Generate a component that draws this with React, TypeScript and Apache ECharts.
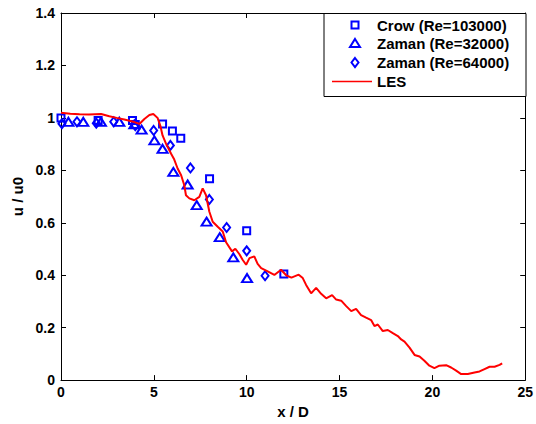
import React, { useEffect, useRef } from "react";
import * as echarts from "echarts";

const crowX = [0, 2.0, 3.85, 4.0, 5.47, 6.0, 6.45, 8.0, 10.0, 12.0];
const crowY = [1.0, 0.99, 0.99, 0.975, 0.977, 0.95, 0.922, 0.768, 0.57, 0.405];

const zaman32X = [0.4, 1.2, 2.15, 3.14, 3.95, 4.34, 5.03, 5.47, 6.05, 6.82, 7.31, 7.84, 8.55, 9.28, 10.02];
const zaman32Y = [0.985, 0.985, 0.985, 0.985, 0.975, 0.955, 0.914, 0.882, 0.794, 0.746, 0.667, 0.604, 0.545, 0.468, 0.389];

const zaman64X = [0.05, 0.86, 1.9, 2.84, 4.0, 4.99, 5.89, 6.97, 7.99, 8.92, 10.0, 10.99];
const zaman64Y = [0.978, 0.985, 0.98, 0.985, 0.97, 0.952, 0.895, 0.809, 0.689, 0.582, 0.493, 0.398];

const lesX = [0, 0.5, 1.0, 1.5, 2.16, 2.6, 3.0, 3.41, 3.95, 4.22, 4.49, 4.76, 4.97, 5.2, 5.35, 5.47, 5.66, 5.93, 6.1, 6.28, 6.47, 6.64, 6.73, 6.91, 7.18, 7.45, 7.63, 7.81, 7.99, 8.17, 8.44, 8.71, 8.89, 9.21, 9.39, 9.61, 9.78, 9.97, 10.15, 10.41, 10.59, 10.78, 11.13, 11.49, 11.85, 12.14, 12.41, 12.8, 13.02, 13.2, 13.47, 13.74, 14.01, 14.28, 14.6, 14.82, 15.09, 15.36, 15.63, 15.89, 16.16, 16.43, 16.7, 16.88, 17.06, 17.33, 17.6, 17.87, 18.14, 18.32, 18.5, 18.77, 19.04, 19.31, 19.57, 19.84, 20.11, 20.38, 20.74, 21.01, 21.28, 21.55, 21.91, 22.27, 22.54, 22.81, 23.08, 23.35, 23.62, 23.76];
const lesY = [1.02, 1.016, 1.014, 1.013, 1.015, 1.006, 1.0, 0.994, 0.984, 0.977, 0.996, 1.011, 1.015, 1.0, 0.97, 0.933, 0.901, 0.863, 0.841, 0.807, 0.781, 0.743, 0.705, 0.693, 0.686, 0.699, 0.731, 0.705, 0.642, 0.604, 0.585, 0.567, 0.526, 0.491, 0.501, 0.48, 0.459, 0.44, 0.465, 0.472, 0.443, 0.427, 0.415, 0.401, 0.421, 0.399, 0.391, 0.402, 0.389, 0.363, 0.331, 0.352, 0.329, 0.312, 0.324, 0.307, 0.303, 0.282, 0.263, 0.272, 0.248, 0.238, 0.229, 0.206, 0.212, 0.187, 0.191, 0.179, 0.168, 0.155, 0.147, 0.124, 0.096, 0.09, 0.074, 0.055, 0.046, 0.055, 0.057, 0.048, 0.036, 0.023, 0.023, 0.029, 0.033, 0.042, 0.051, 0.051, 0.058, 0.064];

const legendLabels = ["Crow (Re=103000)", "Zaman (Re=32000)", "Zaman (Re=64000)", "LES"];

const BLUE = "#0000ff";
const RED = "#ff0000";
const FONT = "Arial, 'Liberation Sans', sans-serif";

const zip = (xs: number[], ys: number[]) => xs.map((x, i) => [x, ys[i]]);

export default function App() {
  const ref = useRef<HTMLDivElement>(null);
  useEffect(() => {
    if (!ref.current) return;
    const chart = echarts.init(ref.current, undefined, { renderer: "svg" });
    const axisCommon = {
      type: "value" as const,
      axisLine: { show: true, onZero: false, lineStyle: { color: "#000", width: 1 } },
      axisTick: { show: true, inside: true, length: 5, lineStyle: { color: "#000" } },
      splitLine: { show: false },
    };
    const labelStyle = { color: "#000", fontWeight: "bold" as const, fontFamily: FONT, fontSize: 14 };
    const markerStyle = { color: "rgba(0,0,0,0)", borderColor: BLUE, borderWidth: 2, opacity: 1 };
    const rows = [25, 43.5, 62.5, 81.5];
    const legendX = 355;
    const graphics: any[] = [
      { type: "rect", z: 100, shape: { x: 324, y: 13.5, width: 202, height: 83 }, style: { fill: "#fff", stroke: "#000", lineWidth: 1 } },
      { type: "rect", z: 101, shape: { x: legendX - 3.5, y: rows[0] - 3.5, width: 7, height: 7 }, style: { fill: "none", stroke: BLUE, lineWidth: 2 } },
      { type: "polygon", z: 101, shape: { points: [[legendX, rows[1] - 4.5], [legendX + 5, rows[1] + 3.5], [legendX - 5, rows[1] + 3.5]] }, style: { fill: "none", stroke: BLUE, lineWidth: 2 } },
      { type: "polygon", z: 101, shape: { points: [[legendX, rows[2] - 4.5], [legendX + 3.5, rows[2]], [legendX, rows[2] + 4.5], [legendX - 3.5, rows[2]]] }, style: { fill: "none", stroke: BLUE, lineWidth: 2 } },
      { type: "line", z: 101, shape: { x1: 332, y1: rows[3], x2: 372, y2: rows[3] }, style: { stroke: RED, lineWidth: 1.5 } },
    ];
    legendLabels.forEach((t, i) => {
      graphics.push({
        type: "text", z: 101, x: 377, y: rows[i],
        style: { text: t, fill: "#000", font: `bold 15px ${FONT}`, verticalAlign: "middle" },
      });
    });
    chart.setOption({
      animation: false,
      backgroundColor: "#fff",
      grid: { left: 61, right: 10, top: 13, bottom: 41, containLabel: false },
      xAxis: [
        {
          ...axisCommon, min: 0, max: 25, interval: 5, position: "bottom",
          name: "x / D", nameLocation: "middle", nameGap: 23,
          nameTextStyle: { ...labelStyle, fontSize: 15 },
          axisLabel: { ...labelStyle, margin: 5 },
        },
        { ...axisCommon, min: 0, max: 25, interval: 5, position: "top", axisLabel: { show: false } },
      ],
      yAxis: [
        {
          ...axisCommon, min: 0, max: 1.4, interval: 0.2, position: "left",
          name: "u / u0", nameLocation: "middle", nameGap: 35,
          nameTextStyle: { ...labelStyle, fontSize: 15 },
          axisLabel: { ...labelStyle, margin: 6 },
        },
        { ...axisCommon, min: 0, max: 1.4, interval: 0.2, position: "right", axisLabel: { show: false } },
      ],
      series: [
        { name: legendLabels[0], type: "scatter", xAxisIndex: 0, yAxisIndex: 0, symbol: "rect", symbolSize: 7, itemStyle: markerStyle, data: zip(crowX, crowY) },
        { name: legendLabels[1], type: "scatter", xAxisIndex: 0, yAxisIndex: 0, symbol: "triangle", symbolSize: [10, 8], itemStyle: markerStyle, data: zip(zaman32X, zaman32Y) },
        { name: legendLabels[2], type: "scatter", xAxisIndex: 0, yAxisIndex: 0, symbol: "diamond", symbolSize: [7, 9], itemStyle: markerStyle, data: zip(zaman64X, zaman64Y) },
        { name: legendLabels[3], type: "line", xAxisIndex: 0, yAxisIndex: 0, showSymbol: false, symbol: "none", lineStyle: { color: RED, width: 2 }, data: zip(lesX, lesY) },
      ],
      graphic: graphics,
    });
    return () => chart.dispose();
  }, []);
  return <div ref={ref} style={{ position: "fixed", left: 0, top: 0, width: 536, height: 424, background: "#fff" }} />;
}
